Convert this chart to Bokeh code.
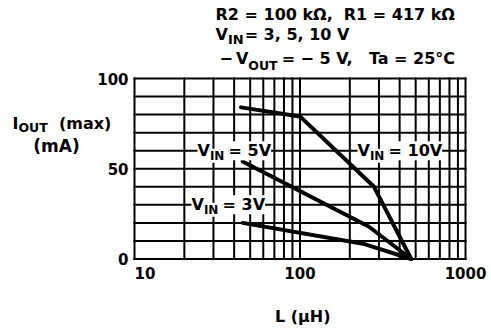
from bokeh.plotting import figure
from bokeh.models import Label, Range1d
from bokeh.embed import file_html
from bokeh.resources import INLINE

# ---------------- data ----------------
L_10V = [44, 100, 280, 470]
I_10V = [84, 79, 40, 0]
L_5V = [45, 260, 470]
I_5V = [54, 18, 0]
L_3V = [45, 240, 470]
I_3V = [20, 8.5, 0]

x_tick_values = [10, 100, 1000]
x_tick_labels = ["10", "100", "1000"]
y_tick_values = [0, 50, 100]
y_tick_labels = ["0", "50", "100"]
x_grid_values = [10, 20, 30, 40, 50, 60, 70, 80, 90,
                 100, 200, 300, 400, 500, 600, 700, 800, 900, 1000]
y_grid_values = [0, 10, 20, 30, 40, 50, 60, 70, 80, 90, 100]

# ---------------- layout ----------------
FONT = "DejaVu Sans"
W, H = 491, 328
FRAME_L, FRAME_R, FRAME_T, FRAME_B = 134, 465, 78, 258.5   # pixel box of the chart area
DEC = (FRAME_R - FRAME_L) / 2                               # px per decade
UNIT = (FRAME_B - FRAME_T) / 100                            # px per mA


def px_to_x(px):
    return 10 ** (1 + (px - FRAME_L) / DEC)


def py_to_y(py):
    return (FRAME_B - py) / UNIT


# approximate DejaVu Sans Bold advance widths (em) for chaining text pieces
CW = {' ': .348, '\u00a0': .348, '(': .458, ')': .458, ',': .381, '=': .838,
      '\u2212': .838, '°': .501, 'A': .774, 'C': .735, 'H': .838, 'I': .373,
      'L': .635, 'N': .838, 'O': .850, 'R': .770, 'T': .684, 'U': .813,
      'V': .774, 'a': .675, 'k': .666, 'm': 1.042, 'x': .648, '\u03a9': .837,
      '\u03bc': .712}
for d in "0123456789":
    CW[d] = .696


def tw(s, size):
    return sum(CW.get(c, .7) for c in s) * size


p = figure(width=W, height=H, x_axis_type="log",
           x_range=Range1d(px_to_x(0), px_to_x(W)),
           y_range=Range1d(py_to_y(H), py_to_y(0)),
           x_axis_location=None, y_axis_location=None,
           output_backend="svg", toolbar_location=None, min_border=0)
p.title.visible = False
p.xgrid.visible = False
p.ygrid.visible = False
p.background_fill_color = "white"
p.border_fill_color = "white"
p.outline_line_color = None

# grid (its outer lines form the chart frame)
xg0, xg1 = x_grid_values[0], x_grid_values[-1]
yg0, yg1 = y_grid_values[0], y_grid_values[-1]
p.segment(x0=x_grid_values, y0=[yg0] * len(x_grid_values),
          x1=x_grid_values, y1=[yg1] * len(x_grid_values),
          line_color="black", line_width=2, line_cap="square")
p.segment(x0=[xg0] * len(y_grid_values), y0=y_grid_values,
          x1=[xg1] * len(y_grid_values), y1=y_grid_values,
          line_color="black", line_width=2, line_cap="square")

# curves
for xs, ys in ((L_10V, I_10V), (L_5V, I_5V), (L_3V, I_3V)):
    p.line(xs, ys, line_color="black", line_width=4, line_cap="round")


def text(t, x, y, size, align="left", bg=None):
    kw = dict(background_fill_color=bg) if bg else {}
    p.add_layout(Label(x=x, y=y, text=t, text_font=FONT, text_font_size=f"{size}px",
                       text_font_style="bold", text_color="black",
                       text_align=align, text_baseline="middle", **kw))


def rich(parts, px, cy, size, sub_size=12.5, sub_dy=5, bg=None, align="left"):
    """parts: (text, is_subscript[, extra gap px]); px = left pixel, cy = pixel y of text middle"""
    total = sum(tw(pt[0], sub_size if pt[1] else size) + (pt[2] if len(pt) > 2 else 0)
                for pt in parts)
    cur = px - (total / 2 if align == "center" else 0)
    for pt in parts:
        t, s = pt[0], pt[1]
        fs = sub_size if s else size
        cur += pt[2] if len(pt) > 2 else 0
        st = t.lstrip(" ")
        cur += tw(t[:len(t) - len(st)], fs)
        text(st, px_to_x(cur), py_to_y(cy + (sub_dy if s else 0)), fs, bg=bg)
        cur += tw(st, fs)


# tick labels
for i, (v, lab) in enumerate(zip(x_tick_values, x_tick_labels)):
    text(lab, v, py_to_y(272), 15, align="left" if i == 0 else "center")
for v, lab in zip(y_tick_values, y_tick_labels):
    text(lab, px_to_x(128), v, 15, align="right")

# heading (conditions)
rich([("R2 = 100 k\u03a9,", 0), ("  R1 = 417 k\u03a9", 0)], 215, 14, 16)
rich([("V", 0), ("IN", 1), ("= 3, 5, 10 V", 0, 1)], 215, 34, 16, sub_size=13, sub_dy=4.5)
rich([("\u2212", 0), ("V", 0, 3), ("OUT", 1), ("= \u2212 5 V,", 0, 4), ("  Ta = 25°C", 0, 3)],
     219, 57.5, 16, sub_size=12.5, sub_dy=7)

# axis titles
rich([("I", 0), ("OUT", 1), ("  (max)", 0)], 12, 123, 16, sub_size=12.5, sub_dy=3.5)
rich([("(mA)", 0)], 56, 145, 17, align="center")
rich([("L (\u03bcH)", 0)], 302, 316, 16, align="center")

# curve labels, centred on the 60 mA and 30 mA grid lines
rich([("V", 0), ("IN\u00a0", 1), ("= 5V", 0)], 197, FRAME_B - 60 * UNIT, 16,
     sub_size=12, sub_dy=5, bg="white")
rich([("V", 0), ("IN\u00a0", 1), ("= 3V", 0)], 191, FRAME_B - 30 * UNIT, 16,
     sub_size=12, sub_dy=5, bg="white")
rich([("V", 0), ("IN\u00a0", 1), ("= 10V", 0)], 357, FRAME_B - 60 * UNIT, 16,
     sub_size=12, sub_dy=5, bg="white")

open("out.html", "w").write(file_html(p, INLINE))
